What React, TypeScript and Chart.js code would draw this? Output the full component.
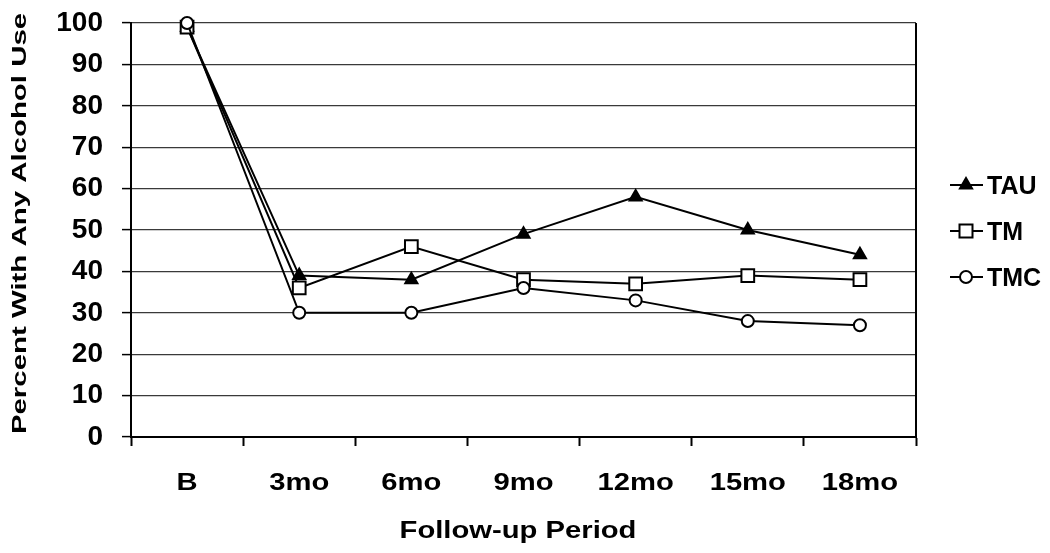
import React, { useEffect, useRef } from "react";
import { Chart, registerables } from "chart.js";

Chart.register(...registerables);

const categories = ["B", "3mo", "6mo", "9mo", "12mo", "15mo", "18mo"];
const tauValues = [99, 39, 38, 49, 58, 50, 44];
const tmValues = [99, 36, 46, 38, 37, 39, 38];
const tmcValues = [100, 30, 30, 36, 33, 28, 27];
const legendNames = ["TAU", "TM", "TMC"];
const xTitle = "Follow-up Period";
const yTitle = "Percent With Any Alcohol Use";

const FONT = '"Liberation Sans", Arial, sans-serif';

function drawMarker(ctx: CanvasRenderingContext2D, kind: string, x: number, y: number) {
  ctx.save();
  ctx.lineWidth = 2;
  ctx.strokeStyle = "#000";
  ctx.beginPath();
  if (kind === "triangle") {
    const r = 7;
    ctx.moveTo(x, y - r);
    ctx.lineTo(x + r * 0.866, y + r * 0.5);
    ctx.lineTo(x - r * 0.866, y + r * 0.5);
    ctx.closePath();
    ctx.fillStyle = "#000";
    ctx.fill();
    ctx.stroke();
  } else if (kind === "rect") {
    const h = 6.5;
    ctx.rect(x - h, y - h, 2 * h, 2 * h);
    ctx.fillStyle = "#fff";
    ctx.fill();
    ctx.stroke();
  } else {
    ctx.arc(x, y, 6, 0, Math.PI * 2);
    ctx.fillStyle = "#fff";
    ctx.fill();
    ctx.stroke();
  }
  ctx.restore();
}

const decorPlugin = {
  id: "decor",
  afterDraw(chart: any) {
    const ctx: CanvasRenderingContext2D = chart.ctx;
    const area = chart.chartArea;
    const xScale = chart.scales.x;
    ctx.save();
    // right frame line
    ctx.strokeStyle = "#000";
    ctx.lineWidth = 2;
    ctx.beginPath();
    ctx.moveTo(area.right, area.top);
    ctx.lineTo(area.right, area.bottom);
    ctx.stroke();

    ctx.fillStyle = "#000";
    ctx.textBaseline = "alphabetic";
    // x tick labels (stretched)
    categories.forEach((c, i) => {
      const px = xScale.getPixelForValue(i);
      ctx.save();
      ctx.translate(px, 490);
      ctx.scale(1.27, 1);
      ctx.font = `bold 23px ${FONT}`;
      ctx.textAlign = "center";
      ctx.fillText(c, 0, 0);
      ctx.restore();
    });
    // x title
    ctx.save();
    ctx.translate(518, 538);
    ctx.scale(1.27, 1);
    ctx.font = `bold 23px ${FONT}`;
    ctx.textAlign = "center";
    ctx.fillText(xTitle, 0, 0);
    ctx.restore();
    // y title
    ctx.save();
    ctx.translate(26, 223.5);
    ctx.rotate(-Math.PI / 2);
    ctx.scale(1.47, 1);
    ctx.font = `bold 20px ${FONT}`;
    ctx.textAlign = "center";
    ctx.fillText(yTitle, 0, 0);
    ctx.restore();

    // legend
    const kinds = ["triangle", "rect", "circle"];
    const baselines = [194, 240, 286];
    legendNames.forEach((name, i) => {
      const cy = baselines[i] - 9;
      ctx.save();
      ctx.strokeStyle = "#000";
      ctx.lineWidth = 2;
      ctx.beginPath();
      ctx.moveTo(950, cy);
      ctx.lineTo(983, cy);
      ctx.stroke();
      ctx.restore();
      drawMarker(ctx, kinds[i], 966, cy);
      ctx.font = `bold 25px ${FONT}`;
      ctx.textAlign = "left";
      ctx.fillStyle = "#000";
      ctx.fillText(name, 987, baselines[i]);
    });
    ctx.restore();
  },
};

export default function App() {
  const canvasRef = useRef<HTMLCanvasElement | null>(null);

  useEffect(() => {
    if (!canvasRef.current) return;
    const common = {
      borderColor: "#000",
      borderWidth: 2,
      pointBorderColor: "#000",
      pointBorderWidth: 2,
      tension: 0,
      clip: false as any,
    };
    const chart = new Chart(canvasRef.current, {
      type: "line",
      data: {
        labels: categories,
        datasets: [
          {
            ...common,
            label: legendNames[0],
            data: tauValues,
            pointStyle: "triangle",
            pointRadius: 7,
            pointBackgroundColor: "#000",
            order: 2,
          },
          {
            ...common,
            label: legendNames[1],
            data: tmValues,
            pointStyle: "rect",
            pointRadius: 9,
            pointBackgroundColor: "#fff",
            order: 1,
          },
          {
            ...common,
            label: legendNames[2],
            data: tmcValues,
            pointStyle: "circle",
            pointRadius: 6,
            pointBackgroundColor: "#fff",
            order: 0,
          },
        ],
      },
      options: {
        animation: false,
        responsive: false,
        events: [],
        layout: { padding: { top: 23, right: 134, left: 0, bottom: 0 } },
        plugins: {
          legend: { display: false },
          tooltip: { enabled: false },
          title: { display: false },
        },
        scales: {
          x: {
            type: "category",
            offset: true,
            grid: {
              display: true,
              offset: true,
              drawOnChartArea: false,
              drawTicks: true,
              tickLength: 9,
              tickColor: "#000",
              tickWidth: 2,
            },
            border: { display: true, color: "#000", width: 2 },
            ticks: { color: "rgba(0,0,0,0)", font: { size: 23, weight: "bold", family: FONT } },
            afterFit: (scale: any) => {
              scale.height = 116;
              scale.paddingLeft = 0;
              scale.paddingRight = 0;
            },
          },
          y: {
            min: 0,
            max: 100,
            ticks: {
              stepSize: 10,
              padding: 19,
              color: "#000",
              font: { size: 28, weight: "bold", family: FONT },
            },
            grid: {
              color: "#3a3a3a",
              lineWidth: 1.2,
              drawTicks: true,
              tickLength: 9,
              tickColor: "#000",
              tickWidth: 1.5,
            },
            border: { display: true, color: "#000", width: 2 },
            afterFit: (scale: any) => {
              scale.width = 131;
              scale.paddingTop = 0;
              scale.paddingBottom = 0;
            },
          },
        },
      },
      plugins: [decorPlugin],
    });
    return () => chart.destroy();
  }, []);

  return (
    <div style={{ position: "absolute", left: 0, top: 0, width: 1050, height: 553, background: "#fff" }}>
      <canvas ref={canvasRef} width={1050} height={553} />
    </div>
  );
}
